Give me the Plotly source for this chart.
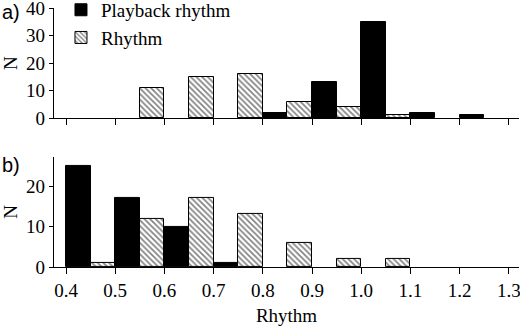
import plotly.graph_objects as go

# Bin starts (Rhythm), bin width 0.1
bins = [0.4, 0.5, 0.6, 0.7, 0.8, 0.9, 1.0, 1.1, 1.2]
# Panel a)
a_playback = [0, 0, 0, 0, 2, 13, 35, 2, 1]
a_rhythm = [0, 11, 15, 16, 6, 4, 1, 0, 0]
# Panel b)
b_playback = [25, 17, 10, 1, 0, 0, 0, 0, 0]
b_rhythm = [1, 12, 17, 13, 6, 2, 2, 0, 0]
xticks = [0.4, 0.5, 0.6, 0.7, 0.8, 0.9, 1.0, 1.1, 1.2, 1.3]

SERIF = "Liberation Serif"
SANS = "Liberation Sans"
half = 0.05

def nz(v):
    return [x if x else None for x in v]

pb_x = [b + half / 2 for b in bins]
rh_x = [b + 1.5 * half for b in bins]

solid = dict(color="black", line=dict(color="black", width=1))
hatch = dict(color="white", line=dict(color="black", width=1),
             pattern=dict(shape="\\", fgcolor="black", bgcolor="white", size=4, solidity=0.4))

fig = go.Figure()
fig.add_bar(x=pb_x, y=nz(a_playback), width=half, marker=solid, name="Playback rhythm",
            xaxis="x", yaxis="y", legendgroup="p")
fig.add_bar(x=rh_x, y=nz(a_rhythm), width=half, marker=hatch, name="Rhythm",
            xaxis="x", yaxis="y", legendgroup="r")
fig.add_bar(x=pb_x, y=nz(b_playback), width=half, marker=solid, name="Playback rhythm",
            xaxis="x2", yaxis="y2", showlegend=False, legendgroup="p")
fig.add_bar(x=rh_x, y=nz(b_rhythm), width=half, marker=hatch, name="Rhythm",
            xaxis="x2", yaxis="y2", showlegend=False, legendgroup="r")

xr = [0.3756, 1.3207]
tfont = dict(family=SERIF, size=19, color="black")
axis_common = dict(showgrid=False, zeroline=False, showline=True, linecolor="black", linewidth=1.2,
                   ticks="outside", tickcolor="black", tickwidth=1.2, ticklabeloverflow="allow",
                   tickfont=tfont, automargin=False)

fig.update_layout(
    width=520, height=329,
    margin=dict(l=54, r=1, t=8, b=62, autoexpand=False),
    paper_bgcolor="white", plot_bgcolor="white",
    font=dict(family=SERIF, size=19, color="black"),
    barmode="overlay", bargap=0,
    showlegend=True,
    legend=dict(x=0.015, y=1.066, xanchor="left", yanchor="top",
                font=tfont,
                bgcolor="rgba(0,0,0,0)", itemwidth=30, tracegroupgap=0,
                traceorder="normal"),
    xaxis=dict(domain=[0, 1], range=xr, anchor="y", tickvals=xticks, showticklabels=False,
               ticklen=6, **axis_common),
    yaxis=dict(domain=[0.575, 1], range=[0, 40], anchor="x", tickvals=[0, 10, 20, 30, 40],
               ticklen=4, title=dict(text="N", font=tfont, standoff=6),
               **axis_common),
    xaxis2=dict(domain=[0, 1], range=xr, anchor="y2", tickvals=xticks,
                ticktext=[f"{v:.1f}" for v in xticks], ticklen=6,
                title=dict(text="Rhythm", font=tfont, standoff=8),
                **axis_common),
    yaxis2=dict(domain=[0, 0.425], range=[0, 27.2], anchor="x2", tickvals=[0, 10, 20],
                ticklen=4, title=dict(text="N", font=tfont, standoff=6),
                **axis_common),
)

fig.add_annotation(text="a)", xref="paper", yref="paper", x=-0.116, y=0.985, xanchor="left", yanchor="middle",
                   showarrow=False, font=dict(family=SANS, size=20, color="black"))
fig.add_annotation(text="b)", xref="paper", yref="paper", x=-0.116, y=0.394, xanchor="left", yanchor="middle",
                   showarrow=False, font=dict(family=SANS, size=20, color="black"))

fig.write_html("out.html")
